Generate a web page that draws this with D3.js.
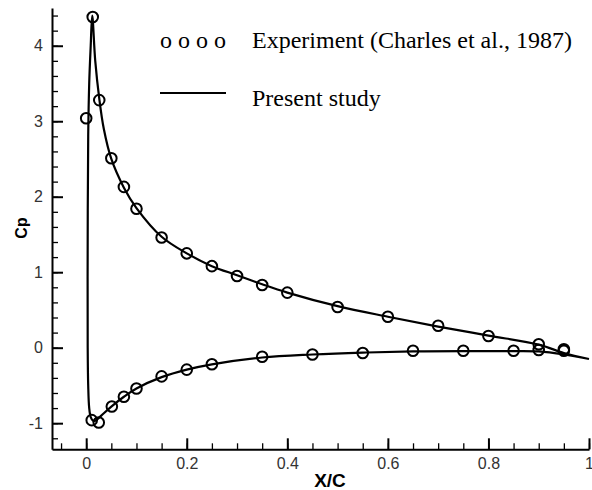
<!DOCTYPE html>
<html>
<head>
<meta charset="utf-8">
<script src="https://cdn.jsdelivr.net/npm/d3@7"></script>
<style>
  body { margin: 0; background: #fff; }
  svg { display: block; }
  .axis text { font-family: "Liberation Sans", Arial, sans-serif; font-size: 16px; fill: #333; }
  .axis line, .axis path { stroke: #000; }
  .legend text { font-family: "Liberation Serif", "Times New Roman", serif; font-size: 24px; fill: #000; }
  .title { font-family: "Liberation Sans", Arial, sans-serif; font-weight: bold; fill: #000; }
</style>
</head>
<body>
<svg width="592" height="490"></svg>
<script>
// Experiment (Charles et al., 1987), upper branch
var expUpperX  = [0.0, 0.013, 0.026, 0.05, 0.075, 0.10, 0.15, 0.20, 0.25, 0.30, 0.35, 0.40, 0.50, 0.60, 0.70, 0.80, 0.90, 0.95];
var expUpperCp = [3.04, 4.38, 3.28, 2.51, 2.13, 1.84, 1.46, 1.25, 1.08, 0.95, 0.83, 0.73, 0.54, 0.41, 0.29, 0.155, 0.045, -0.02];
// lower branch
var expLowerX  = [0.011, 0.025, 0.051, 0.075, 0.10, 0.15, 0.20, 0.25, 0.35, 0.45, 0.55, 0.65, 0.75, 0.85, 0.90, 0.95];
var expLowerCp = [-0.96, -0.99, -0.78, -0.65, -0.54, -0.38, -0.29, -0.22, -0.12, -0.09, -0.07, -0.04, -0.04, -0.04, -0.03, -0.04];

// Present study: one closed path, TE -> upper -> LE -> lower -> TE
var simX  = [1.0, 0.95, 0.90, 0.80, 0.70, 0.60, 0.50, 0.40, 0.35, 0.30, 0.25, 0.20, 0.15, 0.10, 0.075, 0.05, 0.035, 0.026, 0.018, 0.012,
             0.009, 0.006, 0.004, 0.003, 0.003, 0.004, 0.006, 0.009, 0.014, 0.02, 0.03, 0.05, 0.075, 0.10, 0.15, 0.20, 0.25, 0.35, 0.45,
             0.55, 0.65, 0.75, 0.85, 0.90, 0.95, 1.0];
var simCp = [-0.15, -0.07, 0.04, 0.16, 0.28, 0.41, 0.55, 0.73, 0.84, 0.96, 1.08, 1.25, 1.47, 1.85, 2.12, 2.5, 2.9, 3.3, 3.8, 4.4,
             4.0, 3.5, 2.8, 1.5, 0.0, -0.5, -0.8, -0.92, -0.97, -0.96, -0.9, -0.78, -0.65, -0.54, -0.39, -0.29, -0.22, -0.13, -0.09,
             -0.065, -0.05, -0.045, -0.045, -0.05, -0.09, -0.15];

var xMajor = [0, 0.2, 0.4, 0.6, 0.8, 1];
var yMajor = [-1, 0, 1, 2, 3, 4];

var svg = d3.select('svg');

var xScale = d3.scaleLinear().domain([-0.068, 1.0]).range([52, 589]);
var yScale = d3.scaleLinear().domain([-1.346, 4.5]).range([449.3, 8]);

// plain labels: "0.2", "1", "-1"
var plain = function(d){ return String(+d.toFixed(1)); };

// minor ticks
var xMinor = d3.range(-1, 21).map(function(i){ return i * 0.05; });
var yMinor = d3.range(-6, 23).map(function(i){ return i * 0.2; });

svg.append('g')
    .attr('class', 'axis')
    .attr('transform', 'translate(0,449.3)')
    .call(d3.axisBottom(xScale).tickValues(xMinor).tickSize(-6).tickSizeOuter(0).tickFormat(''))
    .call(function(g){ g.selectAll('line').attr('stroke-width', 1.3); g.select('.domain').remove(); });

svg.append('g')
    .attr('class', 'axis')
    .attr('transform', 'translate(52,0)')
    .call(d3.axisLeft(yScale).tickValues(yMinor).tickSize(-6).tickSizeOuter(0).tickFormat(''))
    .call(function(g){ g.selectAll('line').attr('stroke-width', 1.3); g.select('.domain').remove(); });

// major ticks + labels
svg.append('g')
    .attr('class', 'axis')
    .attr('transform', 'translate(0,449.3)')
    .call(d3.axisBottom(xScale).tickValues(xMajor).tickSize(-11).tickSizeOuter(0).tickPadding(8).tickFormat(plain))
    .call(function(g){
        g.selectAll('line').attr('stroke-width', 2);
        g.select('.domain').attr('stroke-width', 2);
    });

svg.append('g')
    .attr('class', 'axis')
    .attr('transform', 'translate(52,0)')
    .call(d3.axisLeft(yScale).tickValues(yMajor).tickSize(-11).tickSizeOuter(0).tickPadding(9).tickFormat(plain))
    .call(function(g){
        g.selectAll('line').attr('stroke-width', 2);
        g.select('.domain').attr('stroke-width', 2);
    });

// axis titles
svg.append('text')
    .attr('class', 'title')
    .attr('x', 330).attr('y', 487)
    .attr('text-anchor', 'middle')
    .style('font-size', '19px')
    .text('X/C');

svg.append('text')
    .attr('class', 'title')
    .attr('transform', 'translate(27,228)rotate(-90)')
    .attr('text-anchor', 'middle')
    .style('font-size', '16px')
    .text('Cp');

// simulation line
var simData = simX.map(function(x, i){ return [x, simCp[i]]; });
var line = d3.line()
    .x(function(d){ return xScale(d[0]); })
    .y(function(d){ return yScale(d[1]); })
    .curve(d3.curveCatmullRom.alpha(0.5));

svg.append('path')
    .datum(simData)
    .attr('d', line)
    .attr('fill', 'none')
    .attr('stroke', '#000')
    .attr('stroke-width', 2.2)
    .attr('stroke-linejoin', 'round');

// experiment circles
var expData = expUpperX.map(function(x, i){ return [x, expUpperCp[i]]; })
    .concat(expLowerX.map(function(x, i){ return [x, expLowerCp[i]]; }));

svg.selectAll('.dot')
    .data(expData)
    .enter()
    .append('circle')
    .attr('class', 'dot')
    .attr('cx', function(d){ return xScale(d[0]); })
    .attr('cy', function(d){ return yScale(d[1]); })
    .attr('r', 5.3)
    .attr('fill', 'none')
    .attr('stroke', '#000')
    .attr('stroke-width', 2);

// legend
var legend = svg.append('g').attr('class', 'legend');
legend.append('text').attr('x', 160).attr('y', 48).text('o o o o');
legend.append('text').attr('x', 252).attr('y', 48).text('Experiment (Charles et al., 1987)');
legend.append('line')
    .attr('x1', 160).attr('x2', 226)
    .attr('y1', 93).attr('y2', 93)
    .attr('stroke', '#000')
    .attr('stroke-width', 2);
legend.append('text').attr('x', 252).attr('y', 106).text('Present study');
</script>
</body>
</html>
